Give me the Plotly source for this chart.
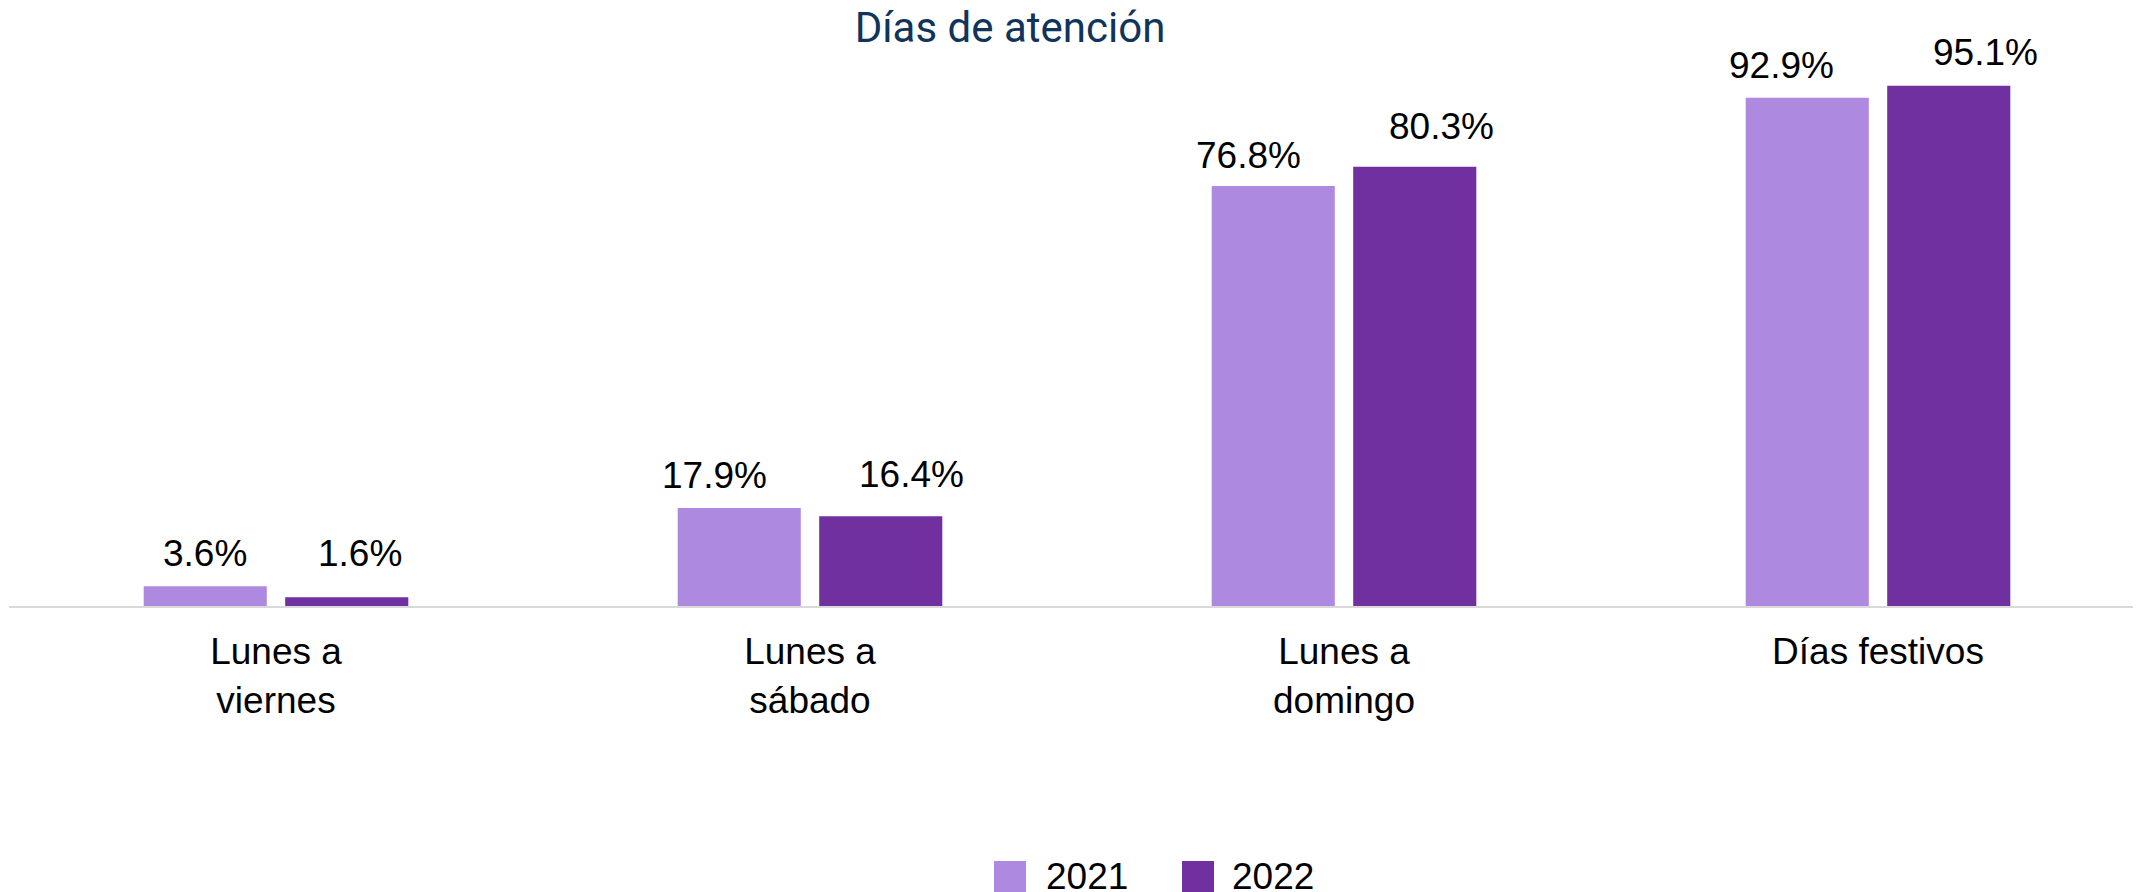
import plotly.graph_objects as go

categories = ["Lunes a<br>viernes", "Lunes a<br>sábado", "Lunes a<br>domingo", "Días festivos"]
values_2021 = [3.6, 17.9, 76.8, 92.9]
values_2022 = [1.6, 16.4, 80.3, 95.1]
series_names = ["2021", "2022"]
colors = ["#AE89E0", "#7030A0"]

# label placement offsets (pixels) as in the original chart
label_dx = [[0, -25, -25, -26], [13, 31, 27, 37]]
label_dy = [[10, 10, 8, 10], [21, 19, 18, 11]]

W, H = 2141, 892
OFF = 8  # page body offset
L, R, T, B = 1, 4, 51, 294
pw = W - L - R
ph = H - T - B

fig = go.Figure()
for name, vals, col in zip(series_names, [values_2021, values_2022], colors):
    fig.add_trace(go.Bar(x=categories, y=vals, name=name, marker=dict(color=col, line=dict(width=0)),
                         showlegend=False, offsetgroup=name))

# data labels
slot = 141.5 / 534.0
for i, (name, vals) in enumerate(zip(series_names, [values_2021, values_2022])):
    off = (-0.5 + i) * slot
    for j, v in enumerate(vals):
        fig.add_annotation(x=j + off, y=v, xref="x", yref="y", text=f"{v:.1f}%",
                           showarrow=False, yanchor="bottom",
                           xshift=label_dx[i][j], yshift=label_dy[i][j],
                           font=dict(family="Liberation Sans, Arial", size=37, color="#000000"))

# legend drawn manually (page pixel positions converted to paper coords)
def px2paper_x(px):
    return (px - OFF - L) / pw

def px2paper_y(py):
    return (H - B - (py - OFF)) / ph

legend_items = [(994, 1044), (1182, 1230)]
for (sx, tx), name, col in zip(legend_items, series_names, colors):
    fig.add_shape(type="rect", xref="paper", yref="paper",
                  x0=px2paper_x(sx), x1=px2paper_x(sx + 32),
                  y0=px2paper_y(893), y1=px2paper_y(861),
                  fillcolor=col, line=dict(width=0))
    fig.add_annotation(xref="paper", yref="paper", x=px2paper_x(tx), y=px2paper_y(876),
                       text=name, showarrow=False, xanchor="left", yanchor="middle",
                       font=dict(family="Liberation Sans, Arial", size=37, color="#000000"))

fig.update_layout(
    width=W, height=H,
    margin=dict(l=L, r=R, t=T, b=B),
    paper_bgcolor="white", plot_bgcolor="white",
    barmode="group", bargap=0.47, bargroupgap=0.13,
    title=dict(text="Días de atención", x=(1010 - OFF) / W, xref="container", xanchor="center",
               y=1 - (27 - OFF) / H, yref="container", yanchor="middle",
               font=dict(family="Roboto", size=42, color="#10345A")),
    xaxis=dict(showline=True, linecolor="#D9D9D9", linewidth=2, showgrid=False, zeroline=False,
               ticks="", range=[-0.5, 3.5 - (4 * 534 - pw) / 534], ticklabelstandoff=12,
               tickfont=dict(family="Liberation Sans, Arial", size=37, color="#000000")),
    yaxis=dict(visible=False, range=[0, 100], showgrid=False, zeroline=False),
    showlegend=False,
)

fig.write_html("out.html")
